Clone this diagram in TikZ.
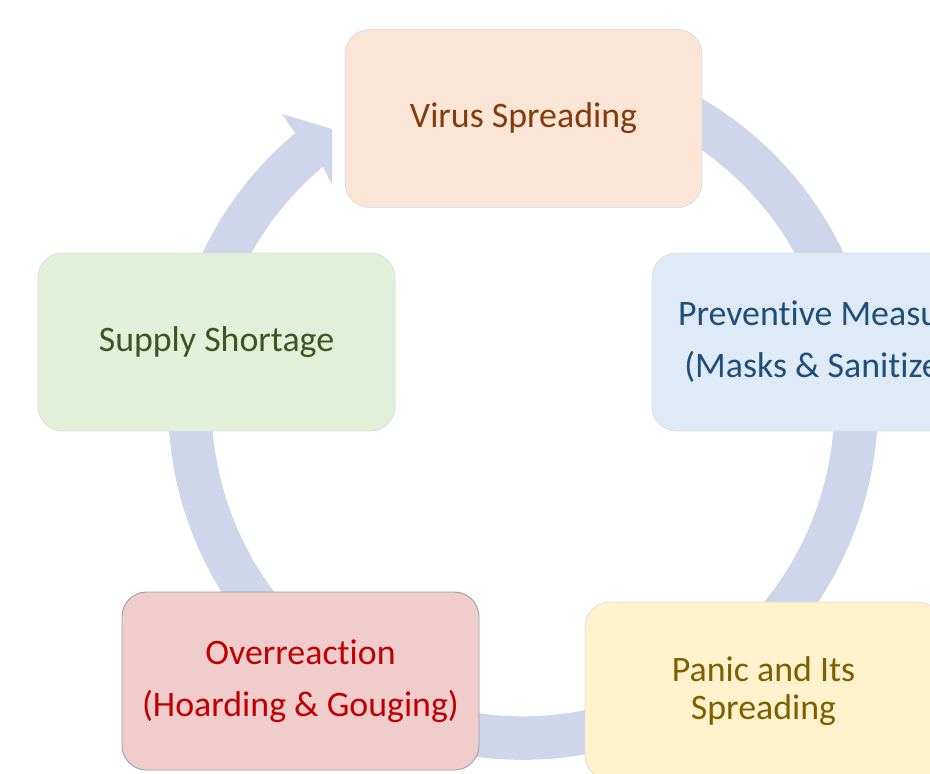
\documentclass[tikz,border=0pt]{standalone}
\usepackage{fontspec}
\setmainfont{Carlito}[Ligatures=NoCommon]

\definecolor{ringc}{HTML}{CFD5EA}
\definecolor{virusbg}{HTML}{FBE5D6}
\definecolor{virustx}{HTML}{843C0C}
\definecolor{prevbg}{HTML}{DEEBF7}
\definecolor{prevtx}{HTML}{1F4E79}
\definecolor{supplybg}{HTML}{E2F0D9}
\definecolor{supplytx}{HTML}{385723}
\definecolor{hoardbg}{HTML}{F0CDCC}
\definecolor{hoardtx}{HTML}{C00000}
\definecolor{panicbg}{HTML}{FFF2CC}
\definecolor{panictx}{HTML}{7F6000}

\begin{document}
\begin{tikzpicture}[
        box/.style={draw=gray!25, line width=0.5pt, rounded corners=14pt,
            minimum width=7.14cm, minimum height=3.56cm, align=center,
            font=\fontsize{20.4}{21.6}\selectfont},
        ring/.style={draw=ringc, line width=0.87cm},
    ]
    \useasboundingbox (0,0) rectangle (18.6,15.46);
    \clip (0,0) rectangle (18.6,15.46);

    % the cycle ring, running clockwise back to the top
    \coordinate (c) at (10.46,7.36);
    \draw[ring] (c) ++(70:6.66) arc[start angle=70, end angle=-232, radius=6.66];
    \fill[ringc] (5.90,12.80) -- (5.64,13.18) -- (6.64,12.88) -- (6.64,11.76) -- (6.46,12.13) -- cycle;

    \node[box, fill=virusbg, text=virustx](virus) at (10.47,13.09) {Virus Spreading};
    \node[box, fill=prevbg, text=prevtx](prevent) at (16.61,8.62) {Preventive Measures\\[8pt](Masks \& Sanitizers)};
    \node[box, fill=panicbg, text=panictx](panic) at (15.27,1.64) {Panic and Its\\Spreading};
    \node[box, fill=hoardbg, text=hoardtx, draw=gray!75](hoard) at (6.01,1.84) {Overreaction\\[8pt](Hoarding \& Gouging)};
    \node[box, fill=supplybg, text=supplytx](supply) at (4.33,8.62) {Supply Shortage};
\end{tikzpicture}
\end{document}
